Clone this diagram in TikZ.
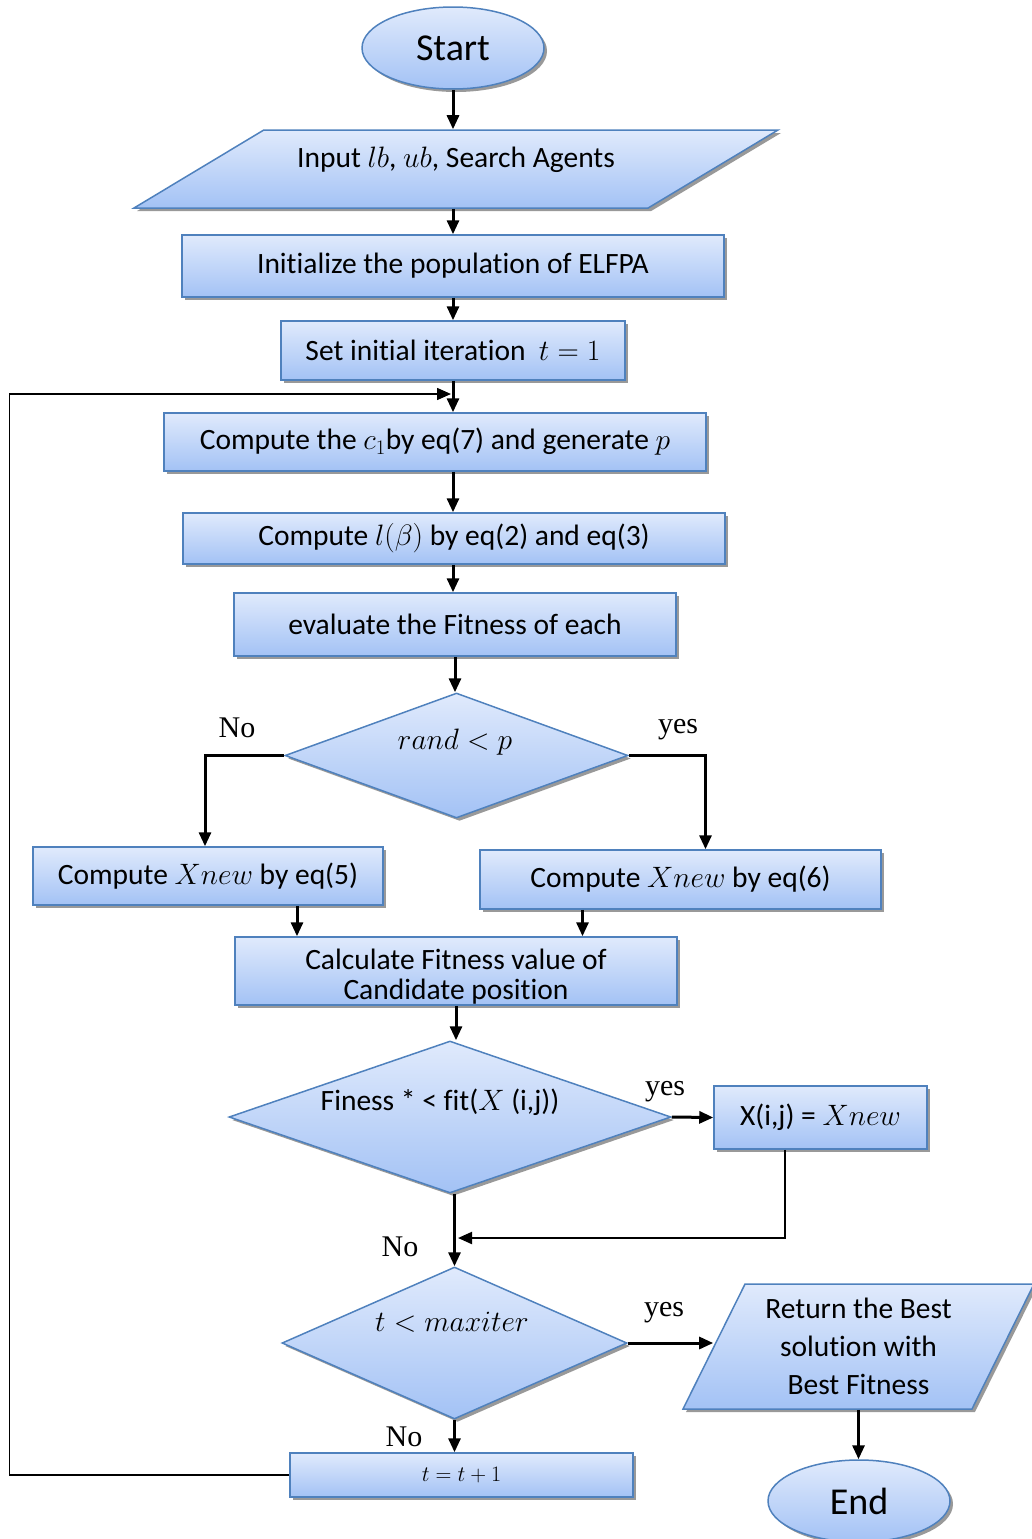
\documentclass[tikz,border=0pt]{standalone}
\usepackage{fix-cm}
\usepackage{fontspec}
\setmainfont{Carlito}[Ligatures=NoCommon]
\newfontfamily\labfont{Liberation Serif}
\usetikzlibrary{arrows.meta,shapes.geometric,shadows}
\definecolor{boxtop}{RGB}{224,234,252}
\definecolor{boxbot}{RGB}{163,194,245}
\definecolor{boxline}{RGB}{79,129,189}
\tikzset{
	base/.style={draw=boxline, line width=1.5pt, top color=boxtop, bottom color=boxbot,
		drop shadow={shadow xshift=3pt, shadow yshift=-3pt, fill=black!40, opacity=1},
		font=\fontsize{29.5}{34}\selectfont, inner sep=0pt},
	proc/.style={base, rectangle},
	term/.style={base, ellipse, minimum width=182pt, minimum height=82pt, font=\fontsize{38}{44}\selectfont},
	dec/.style={base, diamond},
	io/.style={base, trapezium, trapezium stretches body=true},
	arr/.style={-{Triangle[length=14pt,width=12pt]}, line width=3pt},
	yn/.style={font=\labfont\fontsize{30}{36}\selectfont}
}
\begin{document}
\begin{tikzpicture}[x=1pt, y=-1pt]
		\useasboundingbox (0,0) rectangle (1031,1539);
		\node[term] (start) at (453,48) {Start};
		\node[io, trapezium left angle=31, trapezium right angle=149, minimum width=644pt, minimum height=78pt,
			text height=20pt, text depth=24pt, inner ysep=17pt] (input) at (456,169) {Input $lb$, $ub$, Search Agents};
		\node[proc, minimum width=542pt, minimum height=62pt] (init) at (453,266) {Initialize the population of ELFPA};
		\node[proc, minimum width=344pt, minimum height=59pt] (setit) at (453,350.5) {Set initial iteration \ $t=1$};
		\node[proc, minimum width=542pt, minimum height=58pt] (cmpc) at (435,442) {Compute the $c_1$by eq(7) and generate $p$};
		\node[proc, minimum width=542pt, minimum height=51pt] (cmpl) at (454,538.5) {Compute $l(\beta)$ by eq(2) and eq(3)};
		\node[proc, minimum width=442pt, minimum height=63pt] (evalf) at (455,624.5) {evaluate the Fitness of each};
		\node[dec, minimum width=343pt, minimum height=125pt] (rnd) at (456.5,755.5) {};
		\node[font=\fontsize{29.5}{34}\selectfont] (rndt) at (455,742) {$rand<p$};
		\node[proc, minimum width=350pt, minimum height=58pt] (xnew5) at (208,876) {Compute $Xnew$ by eq(5)};
		\node[proc, minimum width=401pt, minimum height=59pt] (xnew6) at (680.5,879.5) {Compute $Xnew$ by eq(6)};
		\node[proc, minimum width=442pt, minimum height=68pt, align=center, font=\fontsize{29.5}{30}\selectfont] (calc) at (456,971) {\rule{0pt}{32pt}Calculate Fitness value of\\Candidate position};
		\node[dec, minimum width=442pt, minimum height=152pt] (fit) at (450,1117) {};
		\node[font=\fontsize{29.5}{34}\selectfont] (fitt) at (440,1102) {Finess * < fit($X$ (i,j))};
		\node[proc, minimum width=213pt, minimum height=63pt] (xupd) at (820.5,1117.5) {X(i,j) = $Xnew$};
		\node[dec, minimum width=345pt, minimum height=152pt] (tmax) at (454.5,1343) {};
		\node[font=\fontsize{29.5}{34}\selectfont] (tmaxt) at (452,1322) {$t<maxiter$};
		\node[io, trapezium left angle=62, trapezium right angle=118, minimum width=351pt, minimum height=125pt,
			align=center, inner ysep=10pt] (ret) at (858.5,1346.5) {Return the Best\\[4pt]solution with\\[4pt]Best Fitness};
		\node[term] (endn) at (859,1501) {End};
		\node[proc, minimum width=343pt, minimum height=44pt, font=\fontsize{22}{26}\selectfont] (tinc) at (461.5,1475) {$t=t+1$};
		\coordinate (loopin) at (451,394);
		\coordinate (merge) at (458,1238);
		\draw[arr] (start.south) -- (start.south |- input.north);
		\draw[arr] (init.north |- input.south) -- (init.north);
		\draw[arr] (init.south) -- (setit.north);
		\draw[arr] (setit.south) -- (setit.south |- cmpc.north);
		\draw[arr] (setit.south |- cmpc.south) -- (setit.south |- cmpl.north);
		\draw[arr] (setit.south |- cmpl.south) -- (setit.south |- evalf.north);
		\draw[arr] (evalf.south) -- (evalf.south |- rnd.north);
		\draw[arr] (rnd.west) -| ([xshift=-3pt]xnew5.north);
		\draw[arr] (rnd.east) -| ([xshift=25pt]xnew6.north);
		\draw[arr] ([xshift=89pt]xnew5.south) -- ([xshift=89pt]xnew5.south |- calc.north);
		\draw[arr] ([xshift=-98pt]xnew6.south) -- ([xshift=-98pt]xnew6.south |- calc.north);
		\draw[arr] (calc.south) -- (calc.south |- fit.north);
		\draw[arr] (fit.east) -- (xupd.west);
		\draw[line width=2pt, -{Triangle[length=14pt,width=12pt]}] (xupd.south -| 785,0) |- (merge);
		\draw[arr] (tmax.north |- fit.south) -- (tmax.north);
		\draw[arr] (tmax.east) -- (tmax.east -| ret.west);
		\draw[arr] (ret.south) -- (ret.south |- endn.north);
		\draw[arr] (tmax.south) -- (tmax.south |- tinc.north);
		\draw[line width=1.5pt, -{Triangle[length=14pt,width=12pt]}] (tinc.west) -- ++(-280,0) |- (loopin);
		\node[yn] (no1) at (237,728) {No};
		\node[yn] (yes1) at (678,730) {yes};
		\node[yn] (yes2) at (665,1092) {yes};
		\node[yn] (no2) at (400,1247) {No};
		\node[yn] (yes3) at (664,1313) {yes};
		\node[yn] (no3) at (404,1437) {No};
	\end{tikzpicture}
\end{document}
